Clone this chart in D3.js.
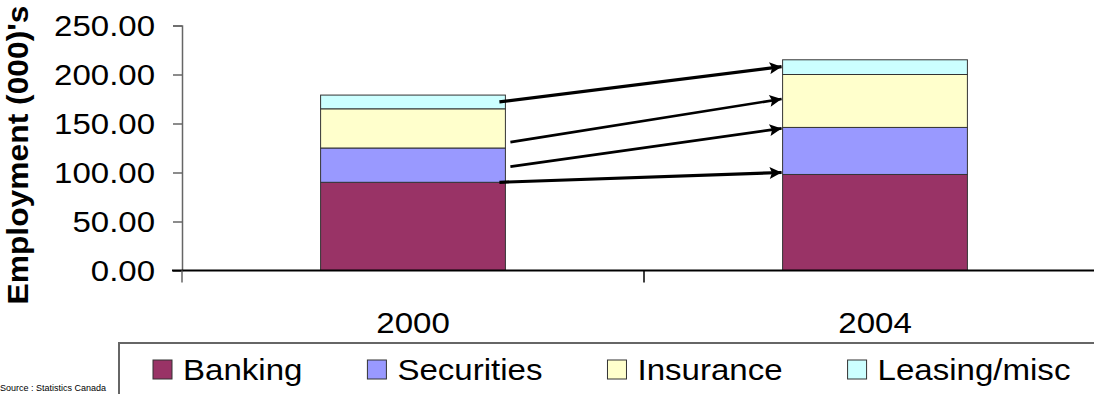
<!DOCTYPE html>
<html>
<head>
<meta charset="utf-8">
<script src="https://cdn.jsdelivr.net/npm/d3@7"></script>
<style>
  html, body { margin: 0; padding: 0; background: #fff; }
  svg { display: block; }
  text { font-family: "Liberation Sans", Arial, sans-serif; fill: #000; }
</style>
</head>
<body>
<svg id="chart" width="1094" height="394"></svg>
<script>
// Employment by sector, thousands
const years = ["2000", "2004"];
const sectors = ["Banking", "Securities", "Insurance", "Leasing/misc"];
const banking = [90, 98];
const securities = [35, 48];
const insurance = [40, 54];
const leasing = [14, 15];
const yTicks = [0, 50, 100, 150, 200, 250];
// Change arrows: employment level at 2000 -> level at 2004
const arrowFrom = [172, 131, 106, 90];
const arrowTo = [208, 175, 145, 100];

const colors = ["#993366", "#9999ff", "#ffffcc", "#ccffff"];
const stretch = 1.14; // wide type used throughout
const arrowStartGap = [-6, 5, 5, -6];
const arrowWidth = [3.2, 2.6, 2.6, 3.2];

const svg = d3.select("#chart");
const W = 1094, H = 394;

const y = d3.scaleLinear().domain([0, 250]).range([270.5, 25.5]);
const xCat = d3.scaleBand().domain(years).range([182, 1106]);
const xBar = d3.scaleBand().domain(years).range([182, 1106]).paddingInner(0.6).paddingOuter(0.3);

// stacked data
const rows = years.map((yr, i) => ({
  year: yr,
  Banking: banking[i], Securities: securities[i], Insurance: insurance[i], "Leasing/misc": leasing[i]
}));
const stack = d3.stack().keys(sectors)(rows);

const bars = svg.append("g");
stack.forEach((layer, k) => {
  bars.selectAll(null).data(layer).join("rect")
    .attr("x", d => xBar(d.data.year))
    .attr("width", xBar.bandwidth())
    .attr("y", d => y(d[1]))
    .attr("height", d => y(d[0]) - y(d[1]))
    .attr("fill", colors[k])
    .attr("stroke", "#333")
    .attr("stroke-width", 1);
});

// y axis
const yAxis = svg.append("g").attr("transform", "translate(182,0)")
  .call(d3.axisLeft(y).tickValues(yTicks).tickSize(9).tickFormat(""));
yAxis.select(".domain").attr("stroke", "#666").attr("stroke-width", 1.5);
yAxis.selectAll(".tick line").attr("stroke", "#666").attr("stroke-width", 1.5);

svg.append("g").selectAll("text").data(yTicks).join("text")
  .attr("transform", d => `translate(155,${y(d) + 10.8}) scale(1.1,1)`)
  .attr("text-anchor", "end")
  .attr("font-size", 30)
  .text(d => d3.format(".2f")(d));

// x axis
const xAxisG = svg.append("g").attr("transform", `translate(0,${y(0)})`);
xAxisG.append("line").attr("x1", 172).attr("x2", W).attr("stroke", "#000").attr("stroke-width", 2);
const bounds = [182, xCat("2004"), 1106];
xAxisG.selectAll(".xt").data(bounds).join("line")
  .attr("class", "xt")
  .attr("x1", d => d).attr("x2", d => d)
  .attr("y1", 0).attr("y2", 12)
  .attr("stroke", d => d === 182 ? "#666" : "#000").attr("stroke-width", 1.5);

svg.append("g").selectAll("text").data(years).join("text")
  .attr("transform", d => `translate(${xCat(d) + xCat.bandwidth() / 2},333) scale(${stretch},1)`)
  .attr("text-anchor", "middle")
  .attr("font-size", 29)
  .text(d => d);

// y title
svg.append("text")
  .attr("transform", `translate(28,155) rotate(-90) scale(1.06,1)`)
  .attr("text-anchor", "middle")
  .attr("font-size", 30)
  .attr("font-weight", "bold")
  .text("Employment (000)'s");

// arrows
const defs = svg.append("defs");
defs.append("marker")
  .attr("id", "head")
  .attr("viewBox", "0 0 10 10")
  .attr("refX", 10).attr("refY", 5)
  .attr("markerUnits", "userSpaceOnUse")
  .attr("markerWidth", 17).attr("markerHeight", 12)
  .attr("orient", "auto")
  .append("path").attr("d", "M0,0 L10,5 L0,10 L2,5 Z").attr("fill", "#000");

const x0 = xBar("2000") + xBar.bandwidth();
const x1 = xBar("2004");
svg.append("g").selectAll("line").data(arrowFrom).join("line")
  .attr("x1", (d, i) => x0 + arrowStartGap[i])
  .attr("y1", d => y(d))
  .attr("x2", x1 - 1)
  .attr("y2", (d, i) => y(arrowTo[i]))
  .attr("stroke", "#000")
  .attr("stroke-width", (d, i) => arrowWidth[i])
  .attr("marker-end", "url(#head)");

// legend
const lg = svg.append("g");
lg.append("path")
  .attr("d", `M119,${H + 2} L119,343 L${W + 2},343`)
  .attr("fill", "none").attr("stroke", "#666").attr("stroke-width", 2);

let lx = 153;
sectors.forEach((s, i) => {
  lg.append("rect")
    .attr("x", lx).attr("y", 360).attr("width", 19).attr("height", 19)
    .attr("fill", colors[i]).attr("stroke", "#333").attr("stroke-width", 1);
  const t = lg.append("text")
    .attr("transform", `translate(${lx + 30},380) scale(${stretch},1)`)
    .attr("font-size", 29)
    .text(s);
  const w = t.node().getComputedTextLength() * stretch;
  lx = lx + 30 + w + 65;
});

svg.append("text")
  .attr("x", 0).attr("y", 391)
  .attr("font-size", 9)
  .text("Source : Statistics Canada");
</script>
</body>
</html>
